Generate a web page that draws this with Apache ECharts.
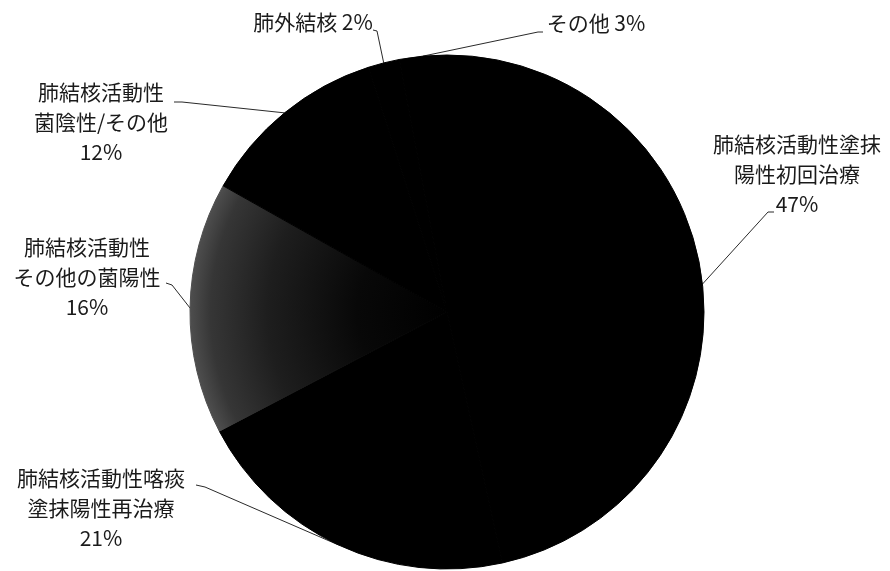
<!DOCTYPE html>
<html>
<head>
<meta charset="utf-8">
<script src="https://cdn.jsdelivr.net/npm/echarts@6/dist/echarts.min.js"></script>
<style>
  html, body { margin: 0; padding: 0; background: #ffffff; }
  #chart { width: 890px; height: 571px; }
</style>
</head>
<body>
<div id="chart"></div>
<script>
// Slice names (clockwise from 12 o'clock) and their shares in percent
const categories = [
  '肺結核活動性塗抹\n陽性初回治療',
  '肺結核活動性喀痰\n塗抹陽性再治療',
  '肺結核活動性\nその他の菌陽性',
  '肺結核活動性\n菌陰性/その他',
  '肺外結核',
  'その他'
];
const shares = [47, 21, 16, 12, 2, 3];

// Where each label block sits and where its leader line meets it
const labelSpots = [[797, 174], [101, 508], [87, 277], [101, 122], [313, 22], [596, 23]];
const leaderTails = [
  [[768, 212], [774, 212]],
  [[205, 487], [196, 485]],
  [[172, 285], [166, 283]],
  [[182, 102], [174, 102]],
  [[377, 31], [373, 30]],
  [[538, 32], [543, 32]]
];

const CX = 447, CY = 312, R = 257;

// The smear-positive-other slice is shaded dark grey, lighter toward the rim
const greyFill = {
  type: 'radial', x: CX, y: CY, r: R, global: true,
  colorStops: [
    { offset: 0, color: '#000000' },
    { offset: 0.35, color: '#080808' },
    { offset: 0.7, color: '#1e1e1e' },
    { offset: 0.92, color: '#363636' },
    { offset: 1, color: '#4e4e4e' }
  ]
};

const seriesData = categories.map((name, i) => {
  const fill = i === 2 ? greyFill : '#000000';
  return {
    name: name,
    value: shares[i],
    // outline in the slice's own fill so neighbouring slices join without seams
    itemStyle: { color: fill, borderColor: fill, borderWidth: 1 }
  };
});

const chart = echarts.init(document.getElementById('chart'), null, { renderer: 'canvas' });

chart.setOption({
  backgroundColor: '#ffffff',
  animation: false,
  series: [{
    type: 'pie',
    center: [CX, CY],
    radius: [0, R],
    startAngle: 90,
    clockwise: true,
    avoidLabelOverlap: false,
    emphasis: { disabled: true },
    label: {
      show: true,
      position: 'outside',
      fontFamily: '"Noto Sans CJK JP", sans-serif',
      fontSize: 21,
      lineHeight: 30,
      color: '#1a1a1a',
      formatter: (p) => p.name.indexOf('\n') >= 0
        ? p.name + '\n' + p.value + '%'
        : p.name + ' ' + p.value + '%'
    },
    labelLine: {
      show: true,
      length: 10,
      length2: 10,
      smooth: false,
      lineStyle: { color: '#2a2a2a', width: 1 }
    },
    labelLayout: (params) => {
      const i = params.dataIndex;
      const anchor = params.labelLinePoints ? params.labelLinePoints[0] : null;
      const out = {
        x: labelSpots[i][0],
        y: labelSpots[i][1],
        align: 'center',
        verticalAlign: 'middle'
      };
      if (anchor) {
        out.labelLinePoints = [anchor, leaderTails[i][0], leaderTails[i][1]];
      }
      return out;
    },
    data: seriesData
  }]
});
</script>
</body>
</html>
